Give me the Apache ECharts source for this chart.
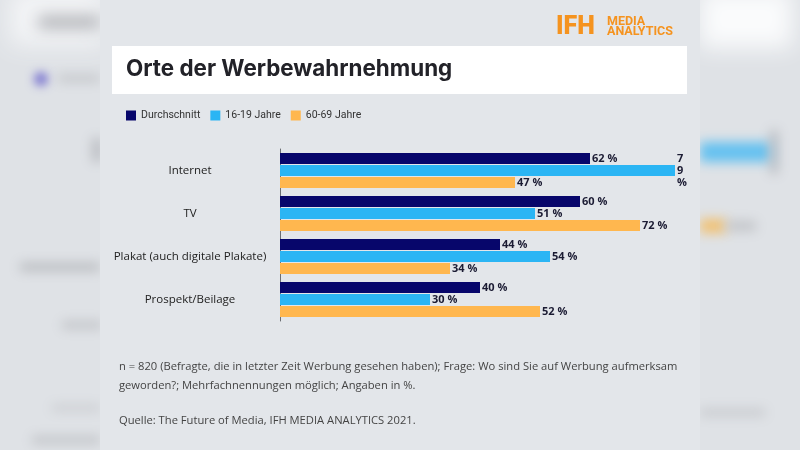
<!DOCTYPE html>
<html>
<head>
<meta charset="utf-8">
<script src="https://cdn.jsdelivr.net/npm/echarts@6/dist/echarts.min.js"></script>
<style>
html,body{margin:0;padding:0;background:#dfe2e6;}
#chart{width:800px;height:450px;}
</style>
</head>
<body>
<div id="chart"></div>
<script>
const categories = ['Internet', 'TV', 'Plakat (auch digitale Plakate)', 'Prospekt/Beilage'];
const seriesNames = ['Durchschnitt', '16-19 Jahre', '60-69 Jahre'];
const avgValues = [62, 60, 44, 40];
const youngValues = [79, 51, 54, 30];
const olderValues = [47, 72, 34, 52];
const titleText = 'Orte der Werbewahrnehmung';
const noteLines = [
  'n = 820 (Befragte, die in letzter Zeit Werbung gesehen haben); Frage: Wo sind Sie auf Werbung aufmerksam',
  'geworden?; Mehrfachnennungen möglich; Angaben in %.'
];
const sourceText = 'Quelle: The Future of Media, IFH MEDIA ANALYTICS 2021.';

const colors = ['#07066b', '#2bb5f4', '#ffb74f'];
const axisMax = 80;
const wrapAbove = 76; // labels that would run past the card edge wrap per character

function labelFormatter(p) {
  const txt = p.value + ' %';
  if (p.value > wrapAbove) return String(p.value).split('').concat(['%']).join('\n');
  return txt;
}

function blur(x, y, w, h, color, b, r) {
  return {
    type: 'rect', z: -20, silent: true,
    shape: { x: x - 2000, y: y, width: w, height: h, r: r || 0 },
    style: { fill: color, shadowColor: color, shadowBlur: b, shadowOffsetX: 2000 }
  };
}

const chart = echarts.init(document.getElementById('chart'), null, { renderer: 'canvas' });
const valueSets = [avgValues, youngValues, olderValues];

const option = {
  backgroundColor: '#dfe2e6',
  animation: false,
  color: colors,
  legend: {
    data: seriesNames,
    left: 126, top: 110, padding: 0,
    itemWidth: 10, itemHeight: 10, itemGap: 10,
    icon: 'rect',
    textStyle: { fontFamily: 'Roboto', fontSize: 10.5, color: '#333' }
  },
  grid: { left: 280, top: 149, width: 400, height: 172, containLabel: false },
  xAxis: { type: 'value', min: 0, max: axisMax, show: false },
  yAxis: {
    type: 'category', data: categories, inverse: true,
    axisLine: { show: true, lineStyle: { color: '#6b6e73', width: 1 } },
    axisTick: { show: false },
    axisLabel: { align: 'center', margin: 90, fontFamily: 'Open Sans', fontSize: 11.5, fontWeight: 500, color: '#222' }
  },
  series: seriesNames.map((name, i) => ({
    name: name, type: 'bar',
    data: valueSets[i],
    barWidth: 11, barGap: '10%',
    itemStyle: { color: colors[i] },
    label: {
      show: true, position: 'right', distance: 2,
      formatter: labelFormatter,
      fontFamily: 'Open Sans', fontSize: 11, fontWeight: 'bold', color: '#1b1b33', lineHeight: 12
    }
  })),
  graphic: [
    // blurred background on sides
    blur(10, -10, 95, 55, '#f4f5f7', 25),
    blur(38, 16, 62, 12, '#a9abb0', 16),
    blur(34, 72, 14, 14, '#7d78d0', 10, 7),
    blur(58, 75, 42, 7, '#c2c4c8', 12),
    blur(92, 138, 10, 24, '#babcc1', 12),
    blur(20, 263, 80, 8, '#b8babe', 12),
    blur(62, 321, 40, 8, '#c2c4c8', 12),
    blur(52, 405, 48, 6, '#c9cbcf', 12),
    blur(32, 436, 68, 8, '#c2c4c8', 12),
    blur(700, -10, 92, 58, '#fafbfc', 22),
    blur(700, 142, 72, 20, '#64c1f0', 12),
    blur(770, 130, 8, 44, '#b9bbc0', 12),
    blur(700, 219, 26, 14, '#f1c070', 12),
    blur(726, 221, 30, 10, '#c2c4c8', 12),
    blur(700, 409, 65, 7, '#c6c8cc', 12),
    // center card
    { type: 'rect', z: -10, silent: true, shape: { x: 100, y: 0, width: 600, height: 450 }, style: { fill: '#e3e6ea' } },
    // title box
    { type: 'rect', z: -5, silent: true, shape: { x: 112, y: 46, width: 575, height: 48 }, style: { fill: '#ffffff' } },
    { type: 'text', z: 5, left: 126, top: 58, style: { text: titleText, fontFamily: 'Inter', fontSize: 22.4, fontWeight: 'bold', fill: '#222228' } },
    // logo
    { type: 'text', z: 5, left: 556, top: 15, style: { text: 'IFH', fontFamily: 'Roboto', fontSize: 25, fontWeight: 900, fill: '#f5931f' } },
    { type: 'text', z: 5, left: 607, top: 15, style: { text: 'MEDIA\nANALYTICS', fontFamily: 'Roboto', fontSize: 12.5, fontWeight: 'bold', lineHeight: 10, fill: '#f5931f' } },
    // notes
    { type: 'text', z: 5, left: 119, top: 357, style: { text: noteLines.join('\n'), fontFamily: 'Open Sans', fontSize: 11.2, lineHeight: 19, fill: '#444' } },
    { type: 'text', z: 5, left: 119, top: 415, style: { text: sourceText, fontFamily: 'Open Sans', fontSize: 11.2, fill: '#444' } }
  ]
};
chart.setOption(option);
</script>
</body>
</html>
